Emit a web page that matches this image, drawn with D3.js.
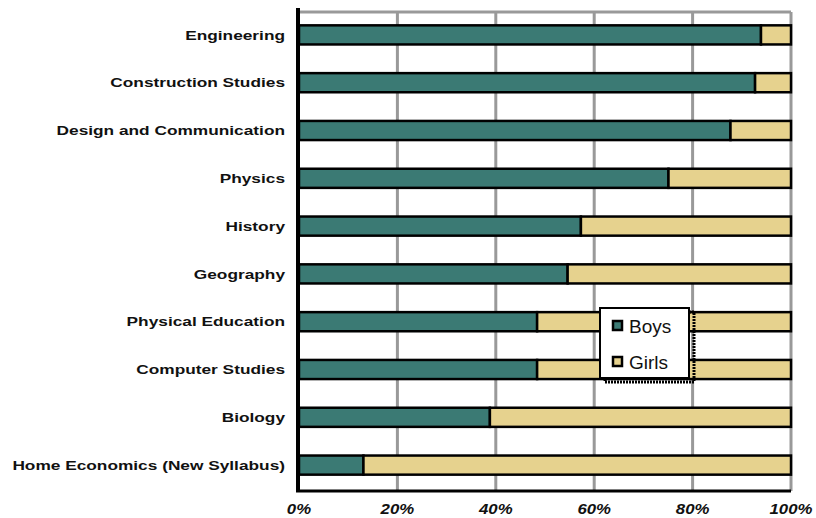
<!DOCTYPE html>
<html><head><meta charset="utf-8">
<script src="https://cdn.jsdelivr.net/npm/d3@7/dist/d3.min.js"></script>
<style>body{margin:0;background:#fff}svg{display:block}</style>
</head><body>
<svg id="c" width="816" height="518"></svg>
<script>
const categories = ["Engineering","Construction Studies","Design and Communication","Physics","History","Geography","Physical Education","Computer Studies","Biology","Home Economics (New Syllabus)"];
const boys = [93.9, 92.7, 87.7, 75.1, 57.3, 54.6, 48.4, 48.4, 38.8, 13.1];
const girls = boys.map(b => 100 - b);
const seriesNames = ["Boys","Girls"];
const colors = ["#3b7a74","#e6d28e"];
const tickValues = [0,20,40,60,80,100];

const svg = d3.select("#c");
const x = d3.scaleLinear().domain([0,100]).range([299,791]);
const y = d3.scaleBand().domain(categories).range([11,489]).paddingInner(0.6).paddingOuter(0.3);
const plotTop = 12, plotBottom = 491;

// gridlines
svg.append("g").selectAll("line").data(tickValues.slice(1)).join("line")
  .attr("x1", d=>x(d)).attr("x2", d=>x(d)).attr("y1", plotTop).attr("y2", plotBottom)
  .attr("stroke","#999").attr("stroke-width",3);
svg.append("line").attr("x1",x(0)).attr("x2",x(100)).attr("y1",plotTop).attr("y2",plotTop)
  .attr("stroke","#999").attr("stroke-width",3);

// bars
const stackData = categories.map((c,i)=>({cat:c, Boys:boys[i], Girls:girls[i]}));
const stack = d3.stack().keys(seriesNames)(stackData);
svg.append("g").selectAll("g").data(stack).join("g")
  .attr("fill",(d,i)=>colors[i])
  .selectAll("rect").data(d=>d).join("rect")
  .attr("x", d=>x(d[0])).attr("width", d=>x(d[1])-x(d[0]))
  .attr("y", d=>y(d.data.cat)).attr("height", y.bandwidth())
  .attr("stroke","#000").attr("stroke-width",2.5);

// axes
svg.append("line").attr("x1",x(0)-1).attr("x2",x(0)-1).attr("y1",8).attr("y2",plotBottom+1)
  .attr("stroke","#000").attr("stroke-width",4);
svg.append("line").attr("x1",x(0)-3).attr("x2",x(100)).attr("y1",plotBottom).attr("y2",plotBottom)
  .attr("stroke","#000").attr("stroke-width",3);

// category labels
svg.append("g").selectAll("text").data(categories).join("text")
  .attr("transform", d=>`translate(285,${y(d)+y.bandwidth()/2}) scale(1.28,1)`)
  .attr("x",0).attr("y",0).attr("dy","0.35em")
  .attr("text-anchor","end").attr("font-family","Liberation Sans, Arial, sans-serif")
  .attr("font-weight","bold").attr("font-size",13.5).attr("fill","#111").text(d=>d);

// tick labels
svg.append("g").selectAll("text").data(tickValues).join("text")
  .attr("transform", d=>`translate(${x(d)},514) scale(1.12,1)`)
  .attr("x",0).attr("y",0).attr("text-anchor","middle")
  .attr("font-family","Liberation Sans, Arial, sans-serif").attr("font-weight","bold")
  .attr("font-style","italic").attr("font-size",15).attr("fill","#111").text(d=>d+"%");

// legend
const lg = svg.append("g");
lg.append("rect").attr("x",605).attr("y",312).attr("width",89).attr("height",70)
  .attr("fill","none").attr("stroke","#000").attr("stroke-width",3).attr("stroke-dasharray","2,1");
lg.append("rect").attr("x",600).attr("y",308).attr("width",89).attr("height",70)
  .attr("fill","#fff").attr("stroke","#000").attr("stroke-width",2);
seriesNames.forEach((s,i)=>{
  lg.append("rect").attr("x",613).attr("y",321+i*36).attr("width",9).attr("height",9)
    .attr("fill",colors[i]).attr("stroke","#000").attr("stroke-width",2.5);
  lg.append("text").attr("x",629).attr("y",326+i*36).attr("dy","0.35em")
    .attr("font-family","Liberation Sans, Arial, sans-serif").attr("font-size",19).attr("fill","#111").text(s);
});
</script>
</body></html>
